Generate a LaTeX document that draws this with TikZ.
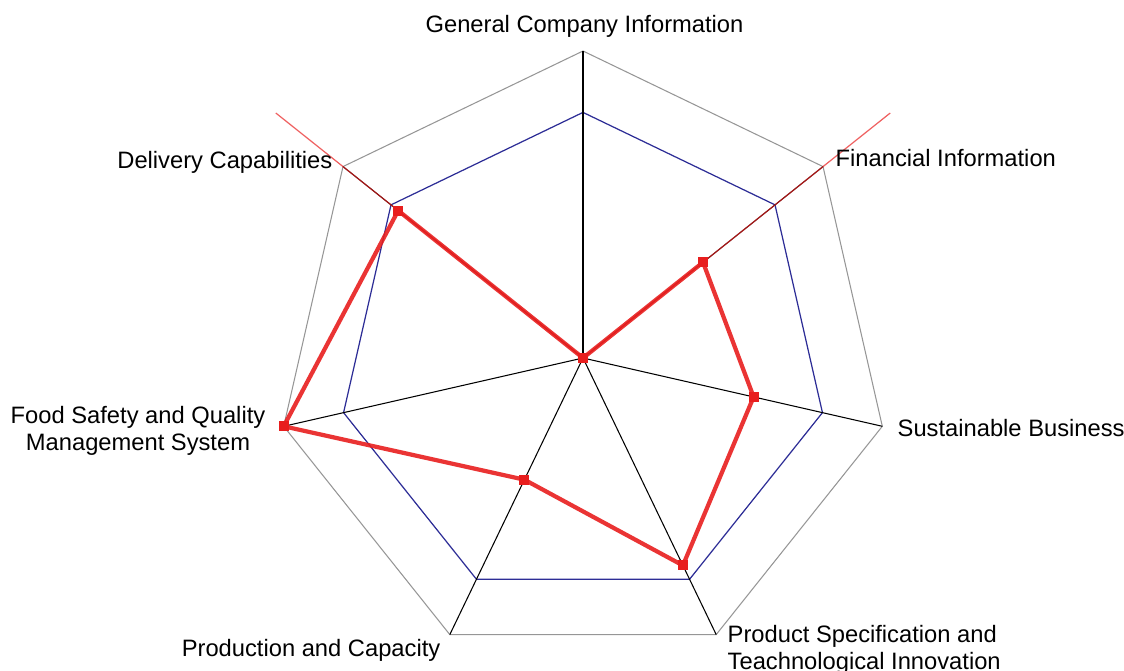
\documentclass[tikz,border=0pt]{standalone}
\usepackage{fontspec}
\setmainfont{Liberation Sans}
\usepackage{tikz}
\usetikzlibrary{positioning,calc}
\definecolor{ringgray}{RGB}{150,150,150}
\definecolor{ringblue}{RGB}{45,45,150}
\definecolor{datared}{RGB}{232,30,30}

\begin{document}
\begin{tikzpicture}[
    lbl/.style={inner sep=0pt, font=\fontsize{6.75}{7.7}\selectfont},
    outer ring/.style={ringgray, line width=0.3pt},
    level ring/.style={ringblue, line width=0.35pt},
    spoke/.style={black, line width=0.3pt},
    red spoke/.style={datared, opacity=0.7, line width=0.35pt},
    data line/.style={datared, line width=1.2pt, line join=round, opacity=0.9},
    datamark/.style={fill=datared, inner sep=0pt, minimum size=0.1cm}]
    \useasboundingbox (0,0) rectangle (11.24,6.70);
    \def\R{3.07}
    \coordinate (O) at (5.83,3.12);

    % axis ends, 80% ring and scores
    \foreach \i/\v in {1/0,2/0.50,3/0.57,4/0.75,5/0.44,6/1.00,7/0.77} {
        \pgfmathsetmacro{\ang}{90-(\i-1)*360/7}
        \coordinate (a\i) at ($(O)+(\ang:\R)$);
        \coordinate (b\i) at ($(O)+(\ang:0.8*\R)$);
        \coordinate (d\i) at ($(O)+(\ang:\v*\R)$);
        \coordinate (e\i) at ($(O)+(\ang:1.28*\R)$);
    }

    \draw[outer ring] (a1) -- (a2) -- (a3) -- (a4) -- (a5) -- (a6) -- (a7) -- cycle;
    \draw[level ring] (b1) -- (b2) -- (b3) -- (b4) -- (b5) -- (b6) -- (b7) -- cycle;
    \foreach \i in {1,...,7}
        \draw[spoke] (O) -- (a\i);
    \draw[red spoke] (O) -- (e2);
    \draw[red spoke] (O) -- (e7);

    \draw[data line] (d1) -- (d2) -- (d3) -- (d4) -- (d5) -- (d6) -- (d7) -- cycle;
    \foreach \i in {1,...,7}
        \node[datamark] (m\i) at (d\i) {};

    \node[lbl, anchor=base] (gen) at (5.845,6.376) {General Company Information};
    \node[lbl, anchor=base west] (fin) at (8.35,5.036) {Financial Information};
    \node[lbl, anchor=base west] (sus) at (8.97,2.336) {Sustainable Business};
    \node[lbl, anchor=north west, align=left] (spec) at (7.27,0.45) {Product Specification and\\Teachnological Innovation};
    \node[lbl, anchor=base east] (prod) at (4.41,0.136) {Production and Capacity};
    \node[lbl, anchor=north, align=center] (food) at (1.38,2.64) {Food Safety and Quality\\Management System};
    \node[lbl, anchor=base east] (deliv) at (3.33,5.016) {Delivery Capabilities};
\end{tikzpicture}
\end{document}
